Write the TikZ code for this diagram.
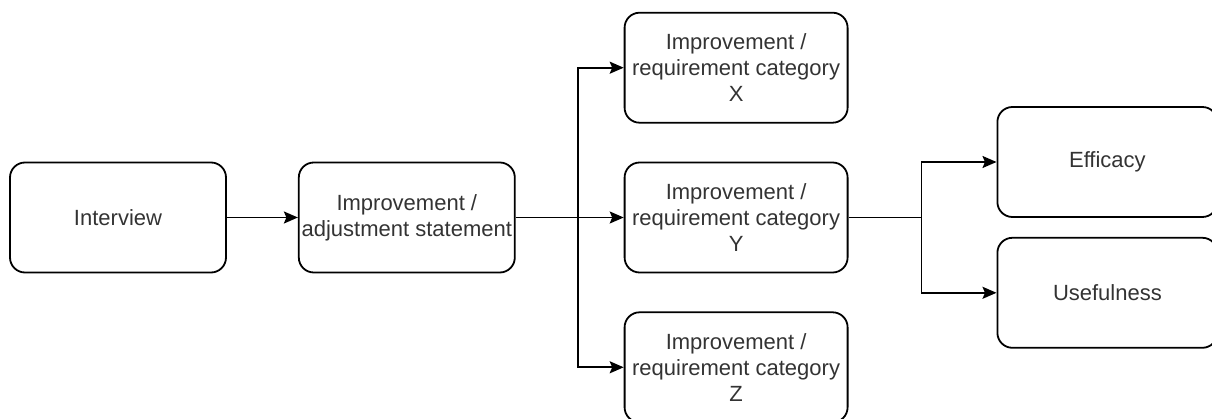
\documentclass[tikz,border=0pt]{standalone}
\usepackage{fontspec}
\setmainfont{Liberation Sans}
\usetikzlibrary{positioning,arrows.meta}

\begin{document}
\begin{tikzpicture}[x=1pt,y=1pt,line width=1.8pt,>={Stealth[length=14pt,width=12pt,inset=2.5pt]},
		box/.style={draw=black,rounded corners=15pt,minimum width=220pt,minimum height=110pt,
			align=center,text=black!80,font=\fontsize{22}{26}\selectfont,inner sep=2pt}]
		\useasboundingbox (0,0) rectangle (1212,-419);
		
		\node[box,minimum width=216pt] (interview) at (118,-217.5) {Interview};
		\node[box,minimum width=216pt,right=71pt of interview] (stmt) {Improvement /\\adjustment statement};
		
		\node[box,minimum width=223pt,right=108pt of stmt] (catY) {Improvement /\\requirement category\\Y};
		\node[box,minimum width=223pt,above=38pt of catY] (catX) {Improvement /\\requirement category\\X};
		\node[box,minimum width=223pt,below=38pt of catY] (catZ) {Improvement /\\requirement category\\Z};
		
		\node[box,anchor=west] (eff) at ([xshift=148pt,yshift=55.5pt]catY.east) {Efficacy};
		\node[box,below=19pt of eff] (use) {Usefulness};
		
		\coordinate[right=62pt of stmt.east] (split);
		\coordinate[right=73pt of catY.east] (merge);
		
		\draw[->] (interview) -- (stmt);
		\draw[->] (stmt) -- (catY);
		\draw[->] (split) |- (catX);
		\draw[->] (split) |- (catZ);
		\draw (catY) -- (merge);
		\draw[->] (merge) |- (eff);
		\draw[->] (merge) |- (use);
	\end{tikzpicture}
\end{document}
